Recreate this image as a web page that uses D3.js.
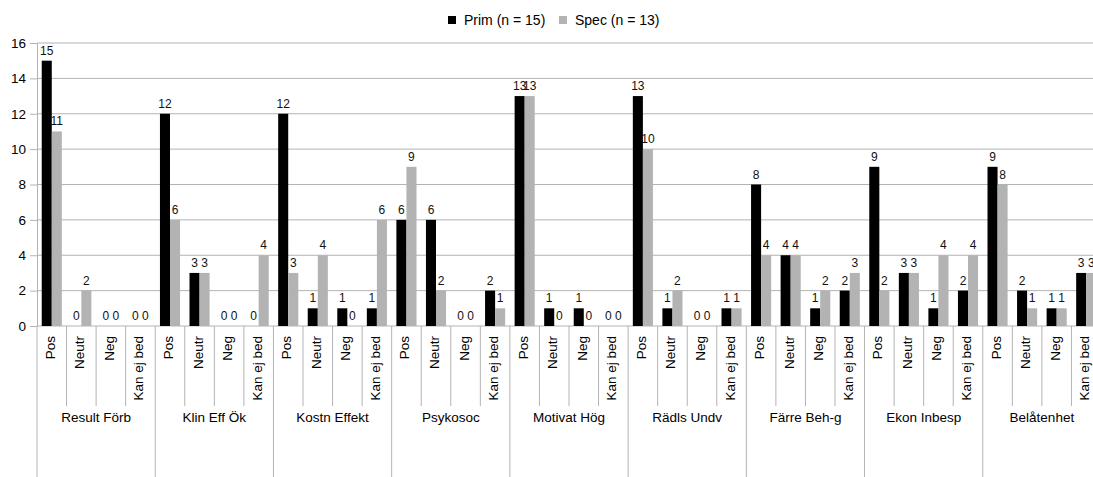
<!DOCTYPE html>
<html>
<head>
<meta charset="utf-8">
<script src="https://cdn.jsdelivr.net/npm/d3@7"></script>
<style>
  html, body { margin: 0; padding: 0; background: #fff; }
  svg { display: block; font-family: "Liberation Sans", Arial, sans-serif; }
</style>
</head>
<body>
<svg id="chart" width="1093" height="477"></svg>
<script>
// Question groups and answer categories
const groups = ["Result Förb", "Klin Eff Ök", "Kostn Effekt", "Psykosoc", "Motivat Hög",
                "Rädls Undv", "Färre Beh-g", "Ekon Inbesp", "Belåtenhet"];
const answers = ["Pos", "Neutr", "Neg", "Kan ej bed"];

// Counts per group, in the order of `answers`
const prim = [
  [15, 0, 0, 0],
  [12, 3, 0, 0],
  [12, 1, 1, 1],
  [6, 6, 0, 2],
  [13, 1, 1, 0],
  [13, 1, 0, 1],
  [8, 4, 1, 2],
  [9, 3, 1, 2],
  [9, 2, 1, 3]
];
const spec = [
  [11, 2, 0, 0],
  [6, 3, 0, 4],
  [3, 4, 0, 6],
  [9, 2, 0, 1],
  [13, 0, 0, 0],
  [10, 2, 0, 1],
  [4, 4, 2, 3],
  [2, 3, 4, 4],
  [8, 1, 1, 3]
];
const seriesNames = ["Prim (n = 15)", "Spec (n = 13)"];
const seriesColors = ["#000000", "#b3b3b3"];
const yTicks = [0, 2, 4, 6, 8, 10, 12, 14, 16];

(function draw() {
  // Flatten to one row per (group, answer)
  const rows = [];
  groups.forEach((g, gi) => {
    answers.forEach((a, ai) => {
      rows.push({ key: g + "|" + a, group: g, answer: a, values: [prim[gi][ai], spec[gi][ai]] });
    });
  });

  const svg = d3.select("#chart");
  const plotLeft = 37, plotRight = 1101, plotTop = 43, plotBottom = 326;

  const x0 = d3.scaleBand().domain(rows.map(r => r.key)).range([plotLeft, plotRight]).padding(0);
  const bw = x0.bandwidth();
  const gap = bw * 0.16;
  const x1 = d3.scaleBand().domain([0, 1]).range([gap, bw - gap]).padding(0);
  const y = d3.scaleLinear().domain([0, 16]).range([plotBottom, plotTop]);
  const gridColor = "#b3b3b3";

  // Horizontal gridlines and y ticks
  const yAxis = d3.axisLeft(y).tickValues(yTicks).tickSize(7).tickPadding(4).tickFormat(d3.format("d"));
  const ya = svg.append("g").attr("transform", `translate(${plotLeft},0)`).call(yAxis);
  ya.select(".domain").attr("stroke", gridColor);
  ya.selectAll(".tick line").attr("stroke", gridColor);
  ya.selectAll(".tick text").attr("font-size", 13.5).attr("fill", "#000")
    .attr("font-family", "Liberation Sans, Arial, sans-serif");
  svg.append("g").selectAll("line").data(yTicks).join("line")
    .attr("x1", plotLeft).attr("x2", plotRight)
    .attr("y1", d => y(d)).attr("y2", d => y(d))
    .attr("stroke", gridColor).attr("stroke-width", 1);

  // Category separators below the axis
  const keys = rows.map(r => r.key);
  svg.append("g").selectAll("line").data(keys.concat(["__end"])).join("line")
    .attr("x1", (d, i) => i < keys.length ? x0(d) : plotRight)
    .attr("x2", (d, i) => i < keys.length ? x0(d) : plotRight)
    .attr("y1", plotBottom)
    .attr("y2", (d, i) => i % 4 === 0 ? 477 : 406)
    .attr("stroke", gridColor).attr("stroke-width", 1);

  // Bars
  const cat = svg.append("g").selectAll("g").data(rows).join("g")
    .attr("transform", d => `translate(${x0(d.key)},0)`);
  cat.selectAll("rect").data(d => d.values.map((v, i) => ({ v, i }))).join("rect")
    .attr("x", d => x1(d.i))
    .attr("width", x1.bandwidth())
    .attr("y", d => y(d.v))
    .attr("height", d => y(0) - y(d.v))
    .attr("fill", d => seriesColors[d.i]);

  // Value labels
  cat.selectAll("text").data(d => d.values.map((v, i) => ({ v, i }))).join("text")
    .attr("x", d => x1(d.i) + x1.bandwidth() / 2)
    .attr("y", d => y(d.v) - 6)
    .attr("text-anchor", "middle")
    .attr("font-size", 12)
    .attr("fill", "#111")
    .text(d => d.v);

  // Rotated answer labels
  svg.append("g").selectAll("text").data(rows).join("text")
    .attr("transform", d => `translate(${x0(d.key) + bw / 2 + 3},336) rotate(-90)`)
    .attr("text-anchor", "end")
    .attr("font-size", 13.5)
    .attr("fill", "#000")
    .text(d => d.answer);

  // Group labels
  svg.append("g").selectAll("text").data(groups).join("text")
    .attr("x", g => x0(g + "|" + answers[0]) + bw * 2)
    .attr("y", 422)
    .attr("text-anchor", "middle")
    .attr("font-size", 13.5)
    .attr("fill", "#000")
    .text(g => g);

  // Legend
  const legendX = [448, 559];
  const lg = svg.append("g").selectAll("g").data(seriesNames).join("g")
    .attr("transform", (d, i) => `translate(${legendX[i]},0)`);
  lg.append("rect").attr("x", 0).attr("y", 16).attr("width", 8).attr("height", 8)
    .attr("fill", (d, i) => seriesColors[i]);
  lg.append("text").attr("x", 16).attr("y", 25).attr("font-size", 14).attr("fill", "#000")
    .text(d => d);
})();
</script>
</body>
</html>
